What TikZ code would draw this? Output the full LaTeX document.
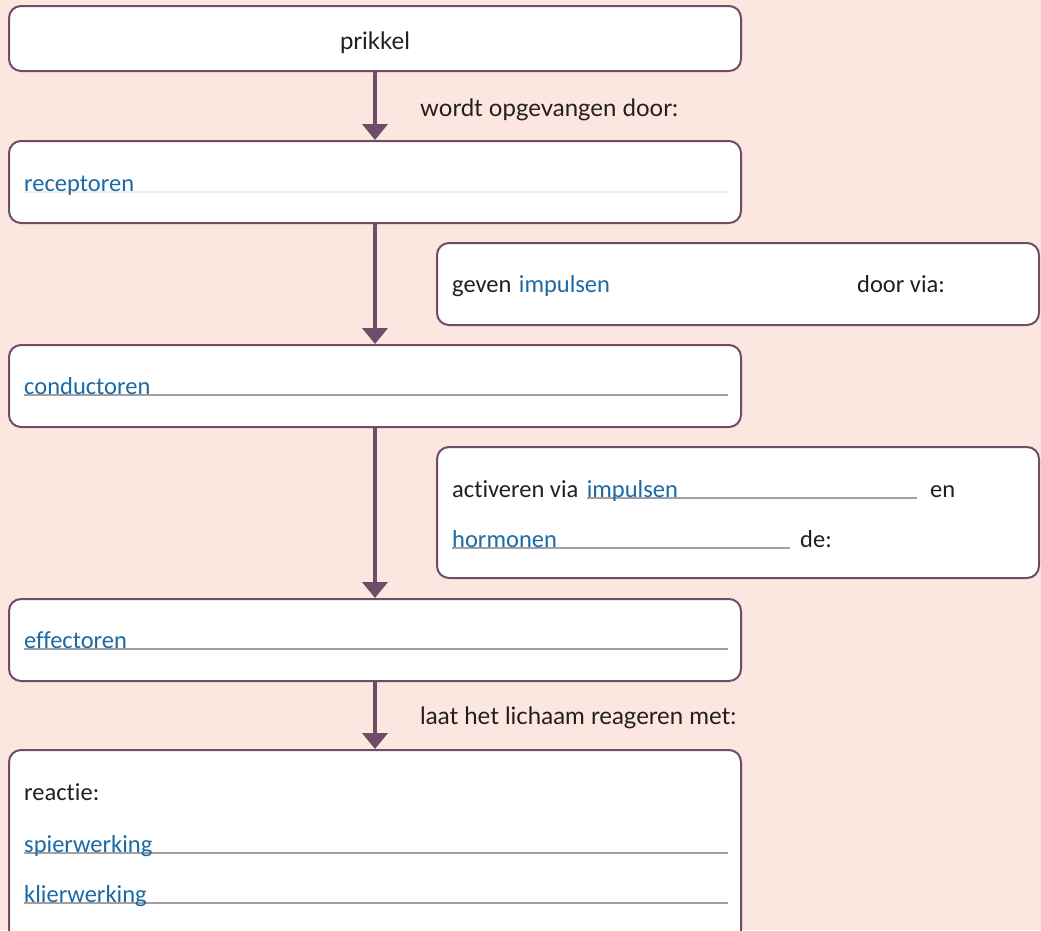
\documentclass[tikz,border=0pt]{standalone}
\usepackage{fontspec}
\usetikzlibrary{arrows.meta}
\newfontfamily\carl[Ligatures=NoCommon]{Carlito}
\newfontfamily\geo{Lato}
\definecolor{bgpink}{RGB}{252,230,224}
\definecolor{frame}{RGB}{110,78,102}
\definecolor{txtblue}{RGB}{27,106,165}
\definecolor{txtdark}{RGB}{35,31,32}
\definecolor{ulgray}{RGB}{160,160,165}
\definecolor{ullight}{RGB}{238,238,238}
\begin{document}
\begin{tikzpicture}[x=1pt,y=-1pt,
  boxa/.style={draw=frame, line width=2pt, fill=white, rounded corners=12pt},
  flow/.style={draw=frame, line width=4.5pt, -{Triangle[width=25pt,length=16pt]}},
  geotxt/.style={font=\geo\fontsize{24}{28}\selectfont, text=txtdark, inner sep=0pt},
  bt/.style={font=\carl\fontsize{24.5}{28}\selectfont, text=txtdark, inner sep=0pt, anchor=base west},
  bl/.style={font=\carl\fontsize{24.5}{28}\selectfont, text=txtblue, inner sep=0pt, anchor=base west},
  ul/.style={draw=ulgray, line width=1.2pt},
  ullt/.style={draw=ullight, line width=1.2pt}]
\fill[bgpink] (0,0) rectangle (1041,930);
\useasboundingbox (0,0) rectangle (1041,930);
% boxes
\path[boxa] (9,6) rectangle (741,71);
\coordinate (b1s) at (375,72);
\path[boxa] (9,141) rectangle (741,223);
\coordinate (b2n) at (375,140);
\coordinate (b2s) at (375,224);
\path[boxa] (437,243) rectangle (1039,325);
\path[boxa] (9,345) rectangle (741,427);
\coordinate (b4n) at (375,344);
\coordinate (b4s) at (375,428);
\path[boxa] (437,447) rectangle (1039,578);
\path[boxa] (9,599) rectangle (741,681);
\coordinate (b6n) at (375,598);
\coordinate (b6s) at (375,682);
\path[boxa] (9,750) rectangle (741,960);
\coordinate (b7n) at (375,749);
% arrows
\draw[flow] (b1s) -- (b2n);
\draw[flow] (b2s) -- (b4n);
\draw[flow] (b4s) -- (b6n);
\draw[flow] (b6s) -- (b7n);
% texts
\node[geotxt] (prikkel) at (375,43) {prikkel};
\node[geotxt, anchor=west] (wordt) at (420,110) {wordt opgevangen door:};
\node[geotxt, anchor=west] (laat) at (420,718) {laat het lichaam reageren met:};
% receptoren
\draw[ullt] (24,192) -- (728,192);
\node[bl] (recep) at (24,191) {receptoren};
% geven impulsen
\node[bt] (geven) at (452,292) {geven};
\node[bl] (imp1) at ([xshift=7pt]geven.base east) {impulsen};
\node[bt] (doorvia) at (857,292) {door via:};
% conductoren
\draw[ul] (24,395) -- (728,395);
\node[bl] (cond) at (24,394) {conductoren};
% activeren
\node[bt] (activ) at (452,497) {activeren via};
\draw[ul] ([xshift=8pt,yshift=-1pt]activ.base east) -- (917,498);
\node[bl] (imp2) at ([xshift=8pt]activ.base east) {impulsen};
\node[bt] (en) at (930,497) {en};
\draw[ul] (452,548) -- (790,548);
\node[bl] (horm) at (452,547) {hormonen};
\node[bt] (de) at (800,547) {de:};
% effectoren
\draw[ul] (24,649) -- (728,649);
\node[bl] (effec) at (24,648) {effectoren};
% reactie
\node[bt] (reactie) at (24,800) {reactie:};
\draw[ul] (24,853) -- (728,853);
\node[bl] (spier) at (24,852) {spierwerking};
\draw[ul] (24,903) -- (728,903);
\node[bl] (klier) at (24,902) {klierwerking};
\end{tikzpicture}
\end{document}
